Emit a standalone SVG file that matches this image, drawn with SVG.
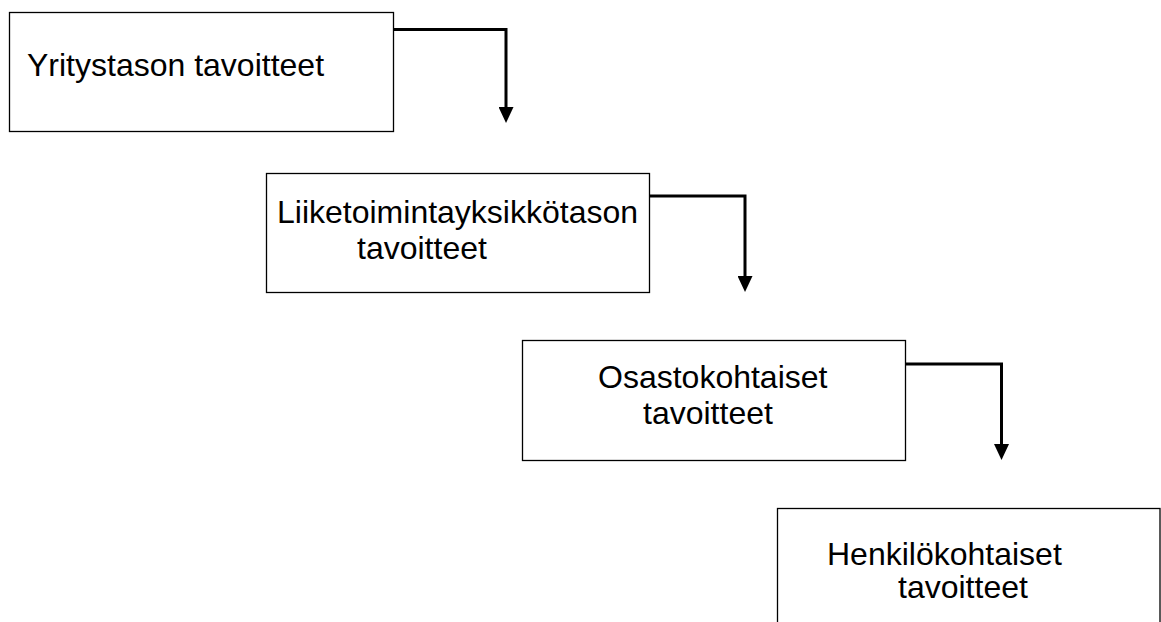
<svg xmlns="http://www.w3.org/2000/svg" width="1161" height="622" viewBox="0 0 1161 622">
<style>
.box{fill:#fff;stroke:#000;stroke-width:1.3}
.lbl{font-family:"Liberation Sans",Arial,sans-serif;font-size:32px;fill:#000}
.conn{fill:none;stroke:#000;stroke-width:3}
</style>
<defs>
<marker id="arr" markerUnits="userSpaceOnUse" markerWidth="16" markerHeight="15" refX="2" refY="7.5" orient="auto">
<path d="M0,0 L16,7.5 L0,15 z" fill="#000"/>
</marker>
</defs>
<rect width="1161" height="622" fill="#fff"/>
<g id="node1">
<rect class="box" x="9.5" y="12.5" width="384" height="119"/>
<text class="lbl" x="27" y="76">Yritystason tavoitteet</text>
</g>
<g id="node2">
<rect class="box" x="266.5" y="173.5" width="383" height="119"/>
<text class="lbl" x="277" y="223">Liiketoimintayksikkötason</text>
<text class="lbl" x="357" y="259">tavoitteet</text>
</g>
<g id="node3">
<rect class="box" x="522.5" y="340.5" width="383" height="120"/>
<text class="lbl" x="598" y="388">Osastokohtaiset</text>
<text class="lbl" x="643" y="424">tavoitteet</text>
</g>
<g id="node4">
<rect class="box" x="777.5" y="508.5" width="382.5" height="140"/>
<text class="lbl" x="827" y="565">Henkilökohtaiset</text>
<text class="lbl" x="898" y="598">tavoitteet</text>
</g>
<g id="connectors">
<path class="conn" d="M394 29.5 H506 V109" marker-end="url(#arr)"/>
<path class="conn" d="M650 196 H745 V278" marker-end="url(#arr)"/>
<path class="conn" d="M906 364 H1001.5 V446" marker-end="url(#arr)"/>
</g>
</svg>
